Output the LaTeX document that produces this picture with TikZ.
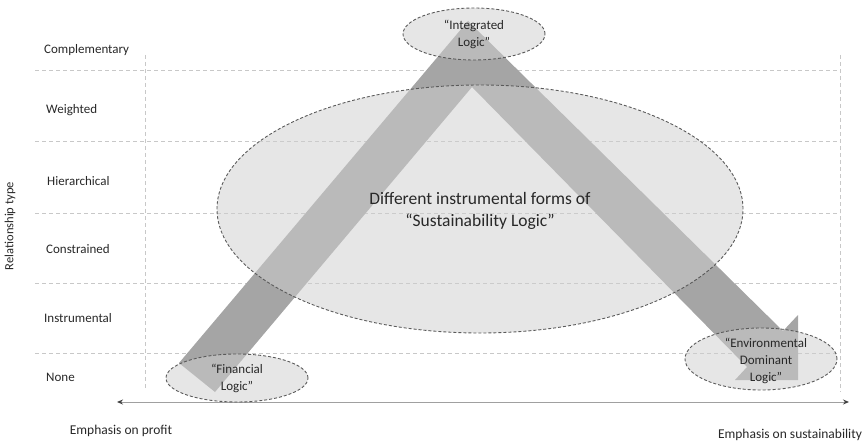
\documentclass[tikz,border=0pt]{standalone}
\usepackage{fontspec}
\setmainfont{Carlito}
\usetikzlibrary{shapes.geometric,arrows.meta}
\definecolor{bandgray}{RGB}{165,165,165}
\definecolor{ellfill}{RGB}{207,207,207}
\definecolor{ellline}{RGB}{90,90,90}
\definecolor{gridgray}{RGB}{200,200,200}
\definecolor{txt}{RGB}{40,40,40}
\definecolor{axisgray}{RGB}{160,160,160}
\begin{document}
\begin{tikzpicture}[x=1pt,y=-1pt,
  gridline/.style={draw=gridgray, line width=0.7pt, dash pattern=on 4pt off 3pt},
  logic/.style={ellipse, draw=ellline, line width=0.9pt, dash pattern=on 3pt off 2pt, fill=ellfill, fill opacity=0.52, inner sep=0pt},
  logictext/.style={text=txt, align=center, inner sep=0pt, font=\fontsize{13}{17}\selectfont},
  rowlabel/.style={anchor=west, text=txt, font=\fontsize{13}{15}\selectfont, inner sep=0pt},
  axislabel/.style={text=txt, font=\fontsize{13.5}{16}\selectfont, inner sep=0pt}
]
\useasboundingbox (0,0) rectangle (865,441);
% grid
\foreach \yy in {70,141,213,283,353} \draw[gridline] (35,\yy) -- (840,\yy);
\draw[gridline] (145,55) -- (145,388);
\draw[gridline] (840,55) -- (840,392);
% horizontal axis
\coordinate (axL) at (117,402);
\coordinate (axR) at (849,402);
\draw[axisgray, line width=1pt, {Stealth[length=6pt,width=5pt,color=black!75]}-{Stealth[length=6pt,width=5pt,color=black!75]}] (axL) -- (axR);
% chevron arrow
\fill[bandgray] (215,392) -- (179,363) -- (468,21) -- (783,331) -- (798,315) -- (798,380) -- (735,380) -- (747,367) -- (472,87) -- cycle;
% ellipses
\node[logic, minimum width=526pt, minimum height=248pt] (sust) at (480,209) {};
\node[logic, minimum width=142pt, minimum height=52pt] (integ) at (474,34) {};
\node[logic, minimum width=142pt, minimum height=48pt] (fin) at (237,378) {};
\node[logic, minimum width=152pt, minimum height=62pt] (env) at (761,359) {};
% ellipse texts
\node[logictext, font=\fontsize{17.5}{22}\selectfont] (sustt) at (480,211) {Different instrumental forms of\\“Sustainability Logic”};
\node[logictext] (integt) at (474,34) {“Integrated\\Logic”};
\node[logictext] (fint) at (237,378) {“Financial\\Logic”};
\node[logictext] (envt) at (766,361) {“Environmental\\Dominant\\Logic”};
% row labels
\node[rowlabel] (lcomp) at (44,50) {Complementary};
\node[rowlabel] (lweig) at (46,110) {Weighted};
\node[rowlabel] (lhier) at (47,181) {Hierarchical};
\node[rowlabel] (lcons) at (46,249) {Constrained};
\node[rowlabel] (linst) at (44,318) {Instrumental};
\node[rowlabel] (lnone) at (46,377) {None};
% axis labels
\node[axislabel, rotate=90, font=\fontsize{12.5}{15}\selectfont] (reltype) at (10,226) {Relationship type};
\node[axislabel] (profit) at (121,431) {Emphasis on profit};
\node[axislabel] (sustain) at (790,435) {Emphasis on sustainability};
\end{tikzpicture}
\end{document}
